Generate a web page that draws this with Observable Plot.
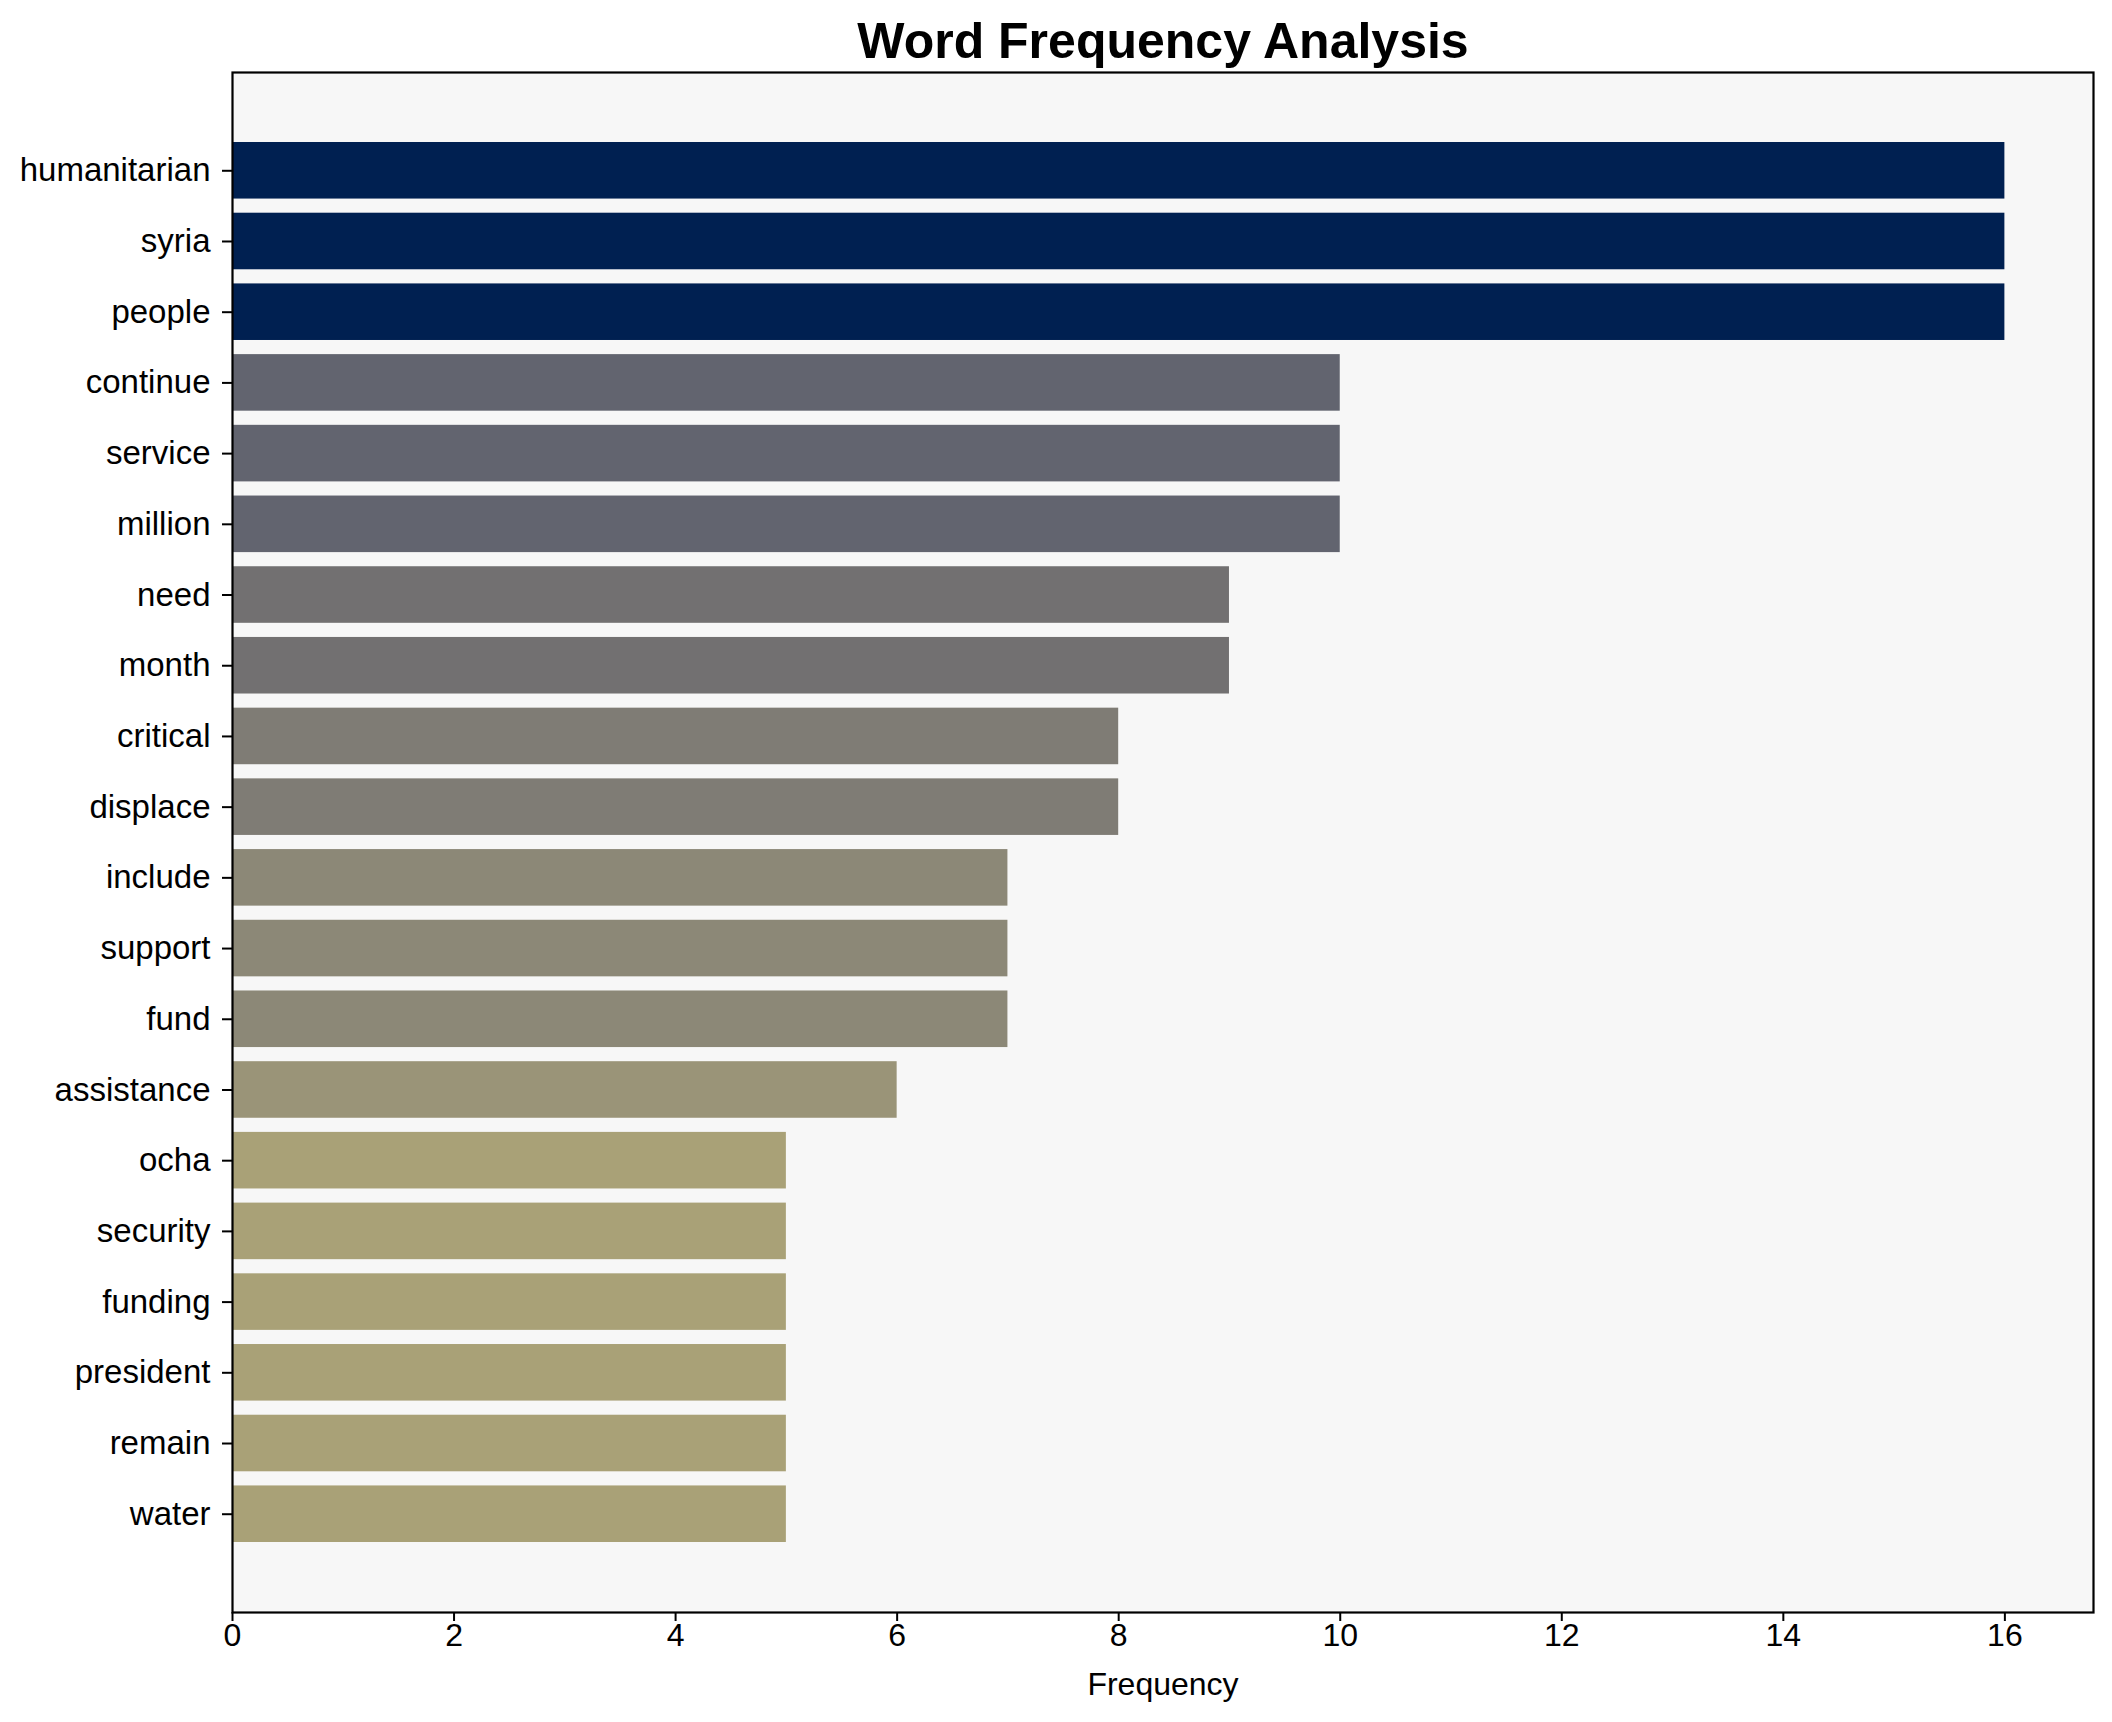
<!DOCTYPE html>
<html>
<head>
<meta charset="utf-8">
<script src="https://cdn.jsdelivr.net/npm/d3@7"></script>
<script src="https://cdn.jsdelivr.net/npm/@observablehq/plot@0.6"></script>
<style>
  html, body { margin: 0; padding: 0; background: #ffffff; }
  #chart svg { display: block; }
</style>
</head>
<body>
<div id="chart"></div>
<script>
const words = ["humanitarian","syria","people","continue","service","million","need","month","critical","displace","include","support","fund","assistance","ocha","security","funding","president","remain","water"];
const counts = [16,16,16,10,10,10,9,9,8,8,7,7,7,6,5,5,5,5,5,5];
const xTicks = [0,2,4,6,8,10,12,14,16];
const titleText = "Word Frequency Analysis";
const xLabel = "Frequency";

const data = words.map((w, i) => ({word: w, value: counts[i]}));
const maxCount = d3.max(counts);
const font = "'Liberation Sans', Arial, Helvetica, sans-serif";

const chart = Plot.plot({
  width: 2112,
  height: 1722,
  marginLeft: 232,
  marginRight: 19,
  marginTop: 72,
  marginBottom: 110,
  style: {fontFamily: font, background: "#ffffff", color: "#000000"},
  x: {domain: [0, maxCount * 1.05], ticks: xTicks, label: null},
  y: {domain: words, paddingInner: 0.2, paddingOuter: 0.99, round: false, label: null},
  color: {type: "linear", domain: [0, maxCount], scheme: "cividis", reverse: true},
  marks: [
    Plot.frame({fill: "#f7f7f7", stroke: null}),
    Plot.barX(data, {x: "value", y: "word", fill: "value"}),
    Plot.frame({stroke: "#000000", strokeWidth: 2.2}),
    Plot.axisY({tickSize: 10, tickPadding: 12, fontSize: 33, strokeWidth: 2, label: null, color: "#000"}),
    Plot.axisX({ticks: xTicks, tickSize: 9, tickPadding: 2, fontSize: 32, strokeWidth: 2, label: null, color: "#000"}),
    Plot.text([xLabel], {frameAnchor: "bottom", dy: 82, lineAnchor: "bottom", fontSize: 32, fill: "#000"}),
    Plot.text([titleText], {frameAnchor: "top", dy: -15, lineAnchor: "bottom", fontSize: 50, fontWeight: "bold", fill: "#000"})
  ]
});
document.getElementById("chart").appendChild(chart);
</script>
</body>
</html>
